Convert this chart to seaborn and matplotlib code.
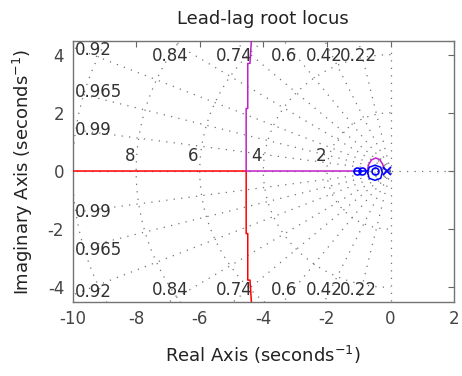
import numpy as np
import matplotlib
matplotlib.use("Agg")
import matplotlib.pyplot as plt
import seaborn as sns

# damping ratios and natural frequencies shown by the s-plane grid
zetas = [0.22, 0.42, 0.6, 0.74, 0.84, 0.92, 0.965, 0.99]
zeta_labels = ["0.22", "0.42", "0.6", "0.74", "0.84", "0.92", "0.965", "0.99"]
wns = [2, 4, 6, 8, 10]
wn_labels = ["2", "4", "6", "8"]

# root locus branches
red_x = [-10.5, -4.54, -4.54, -4.49, -4.49, -4.42, -4.37]
red_y = [0, 0, -2.15, -2.15, -3.75, -3.75, -4.6]
mag_x = [-1.16, -4.54, -4.54, -4.49, -4.49, -4.42, -4.37]
mag_y = [0, 0, 2.15, 2.15, 3.7, 3.7, 4.6]
arc_x = [-0.72, -0.69, -0.6, -0.47, -0.34, -0.25, -0.2]
arc_y = [0.02, 0.22, 0.38, 0.45, 0.39, 0.24, 0.06]
blue_x = [-1.16, -0.72]
blue_y = [0, 0]
ring_x = [-0.72, -0.67, -0.49, -0.31, -0.26, -0.31, -0.49, -0.67, -0.72]
ring_y = [-0.05, 0.13, 0.2, 0.13, -0.05, -0.25, -0.32, -0.25, -0.05]
zeros_x = [-1.07, -0.89, -0.49]
poles_x = [-0.1]

sns.set_style("white")
plt.rcParams['font.family'] = ['DejaVu Sans']
plt.rcParams['axes.unicode_minus'] = False

fig = plt.figure(figsize=(4.62, 3.76), dpi=100)
ax = fig.add_axes([0.157, 0.197, 0.826, 0.694])
xmin, xmax, ymin, ymax = -10, 2, -4.5, 4.47

# s-plane grid
grid_kw = dict(color="0.45", lw=0.9, ls=(0, (1, 5)), zorder=1)
for z in zetas:
    th = np.arccos(z)
    ax.plot([0, -20 * np.cos(th)], [0, 20 * np.sin(th)], **grid_kw)
    ax.plot([0, -20 * np.cos(th)], [0, -20 * np.sin(th)], **grid_kw)
t = np.linspace(np.pi / 2, 3 * np.pi / 2, 200)
for w in wns:
    ax.plot(w * np.cos(t), w * np.sin(t), **grid_kw)
ax.plot([-12, 2], [0, 0], **grid_kw)
ax.plot([0, 0], [-5, 5], **grid_kw)

# zeta labels on the frame
txt_kw = dict(fontsize=12, color="#333333")
for z, lab in zip(zetas, zeta_labels):
    tn = np.tan(np.arccos(z))
    xt = -ymax / tn
    if xt > xmin + 0.3:
        ax.text(xt, 3.97, lab, ha="center", va="center", **txt_kw)
        ax.text(xt, -4.1, lab, ha="center", va="center", **txt_kw)
    else:
        yt = min(-xmin * tn, 4.15)
        ax.text(-9.92, yt, lab, ha="left", va="center", **txt_kw)
        ax.text(-9.92, -yt, lab, ha="left", va="center", **txt_kw)
for w, lab in zip(wns, wn_labels):
    ax.text(-w - 0.2, 0.2, lab, ha="center", va="bottom", **txt_kw)

# locus branches
line_kw = dict(sort=False, estimator=None, lw=1.1, ax=ax, zorder=3)
sns.lineplot(x=red_x, y=red_y, color="#ff0000", **line_kw)
sns.lineplot(x=mag_x, y=mag_y, color="#c020c8", **line_kw)
sns.lineplot(x=arc_x, y=arc_y, color="#c020c8", **line_kw)
sns.lineplot(x=blue_x, y=blue_y, color="#0000ff", **line_kw)
sns.lineplot(x=ring_x, y=ring_y, color="#0000ff", **line_kw)
ax.plot(zeros_x, [0] * len(zeros_x), "o", mfc="none", mec="#0000ff", ms=5, mew=1.2, zorder=4)
ax.plot(poles_x, [0] * len(poles_x), "x", color="#0000ff", ms=6, mew=1.3, zorder=4)

ax.set_xlim(xmin, xmax)
ax.set_ylim(ymin, ymax)
ax.set_xticks([-10, -8, -6, -4, -2, 0, 2])
ax.set_yticks([-4, -2, 0, 2, 4])
ax.tick_params(direction="in", top=True, right=True, length=4, color="0.4",
               labelsize=12, labelcolor="#444444", pad=6)
for s in ax.spines.values():
    s.set_color("0.45")
    s.set_linewidth(1.0)

ax.set_title("Lead-lag root locus", fontsize=13, color="#222222", pad=12)
ax.set_xlabel("Real Axis (seconds$^{-1}$)", fontsize=13, color="#222222", labelpad=11)
ax.set_ylabel("Imaginary Axis (seconds$^{-1}$)", fontsize=13, color="#222222", labelpad=9)

fig.savefig("out.png", dpi=100)
